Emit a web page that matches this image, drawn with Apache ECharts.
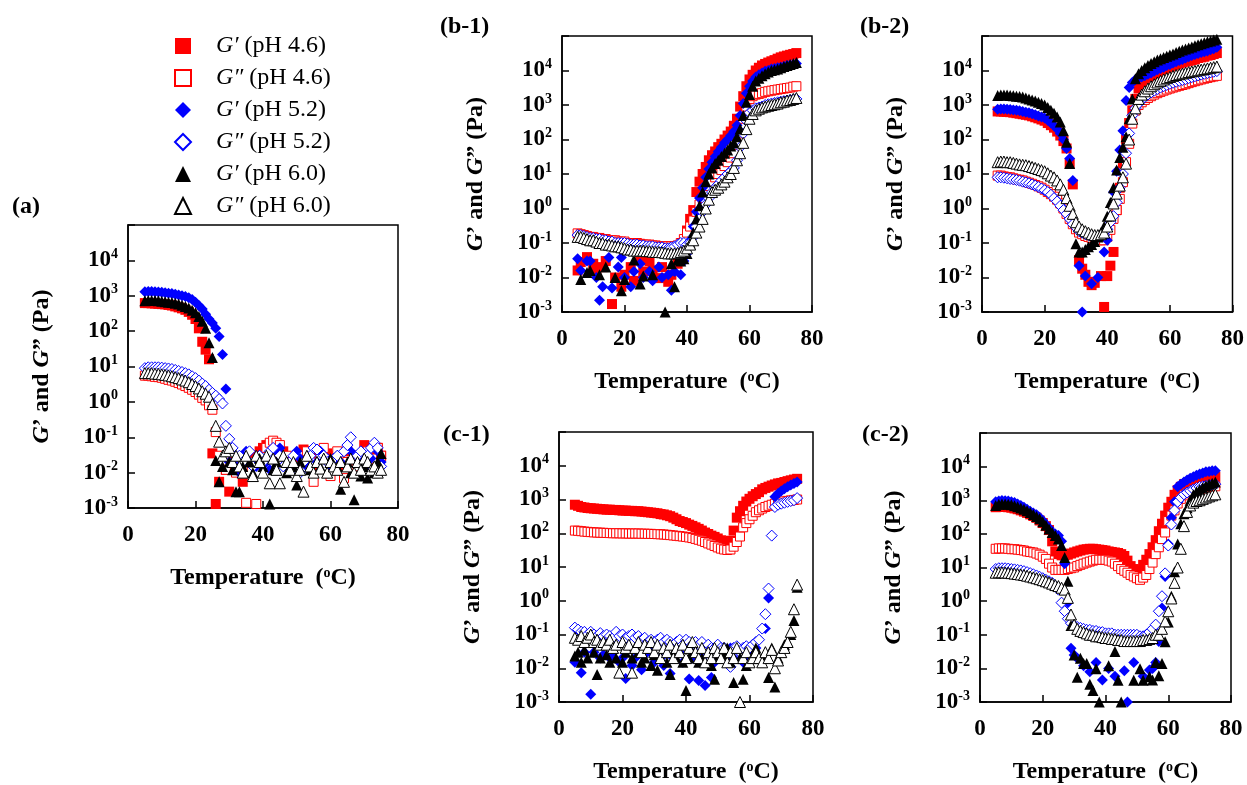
<!DOCTYPE html>
<html>
<head>
<meta charset="utf-8">
<script src="https://cdn.jsdelivr.net/npm/echarts@6/dist/echarts.min.js"></script>
<style>
html,body{margin:0;padding:0;background:#fff;}
#chart{width:1247px;height:785px;}
</style>
</head>
<body>
<div id="chart"></div>
<script>
const _ = null;
// Temperature grid (°C)
const T = [5,6,7,8,9,10,11,12,13,14,15,16,17,18,19,20,21,22,23,24,25,26,27,28,29,30,31,32,33,34,35,36,37,38,39,40,41,42,43,44,45,46,47,48,49,50,51,52,53,54,55,56,57,58,59,60,61,62,63,64,65,66,67,68,69,70,71,72,73,74,75];
const Y_EXPONENTS = [-3,-2,-1,0,1,2,3,4];
const SERIES_NAMES = ['G′ (pH 4.6)','G″ (pH 4.6)','G′ (pH 5.2)','G″ (pH 5.2)','G′ (pH 6.0)','G″ (pH 6.0)'];
const PANEL_TITLES = ['(a)','(b-1)','(b-2)','(c-1)','(c-2)'];

// ---------- panel (a) ----------
const a_Gp46 = [620,620,610,600,590,580,570,550,530,500,
 470,440,400,350,290,220,120,50,30,16,
 0.035,0.0013,0.0055,_,0.012,0.0029,_,0.015,_,0.0055,
 0.02,_,0.03,_,0.04,0.05,0.06,_,0.07,0.03,
 _,0.04,0.02,_,0.025,0.03,_,0.045,0.02,_,
 0.03,0.015,_,0.025,0.035,_,0.02,0.03,_,0.015,
 0.04,_,0.025,0.03,_,0.06,0.02,_,0.035,0.05,
 0.03];
const a_Gpp46 = [5.5,5.5,5.3,5.1,5,4.8,4.5,4.2,4,3.7,
 3.4,3.1,2.8,2.5,2.2,1.9,1.6,1.3,1.1,0.8,
 0.6,0.14,0.03,_,0.012,_,0.02,0.01,_,0.015,
 0.0014,_,0.02,0.0013,_,0.03,0.05,0.07,0.08,0.07,
 0.06,_,0.03,0.02,_,0.015,0.03,_,0.04,0.02,
 0.0055,_,0.03,0.05,_,0.008,0.02,0.04,_,0.007,
 0.02,_,0.03,0.015,_,0.02,0.04,_,0.025,0.05,
 0.03];
const a_Gp52 = [1300,1320,1320,1300,1280,1250,1220,1180,1150,1100,
 1050,1000,950,880,780,650,530,420,300,220,
 170,120,71,22,2.3,0.02,_,0.015,0.01,_,
 0.04,0.02,_,0.015,0.03,_,0.02,0.012,_,0.04,
 0.05,_,0.02,0.015,_,0.04,0.025,_,0.015,0.03,
 _,0.02,0.04,_,0.025,0.015,_,0.03,0.02,_,
 0.06,0.04,_,0.02,0.03,_,0.015,0.025,_,0.04,
 0.02];
const a_Gpp52 = [9,9.5,9.5,9.5,9.5,9.3,9,8.8,8.5,8,
 7.5,7,6.5,6,5.3,4.7,4,3.3,2.8,2.2,
 1.8,1.5,1.2,0.9,0.21,0.09,0.05,_,0.03,0.02,
 _,0.04,0.015,_,0.03,0.02,_,0.04,0.05,_,
 0.03,0.015,_,0.02,0.03,_,0.01,0.02,_,0.03,
 0.05,0.045,_,0.03,0.02,_,0.025,0.03,_,0.04,
 0.06,0.1,_,0.03,0.04,_,0.03,0.05,0.07,0.05,
 0.015];
const a_Gp60 = [720,740,740,730,720,700,680,660,640,610,
 580,540,500,450,390,330,260,190,120,47,
 18,0.022,0.0055,0.015,_,0.02,0.012,0.0029,0.0029,0.015,
 _,0.02,0.01,_,0.025,0.015,_,0.0013,0.012,0.02,
 _,0.03,0.01,_,0.015,0.0045,0.02,_,0.03,0.012,
 _,0.02,0.015,_,0.01,0.025,_,0.015,0.0034,_,
 0.02,0.01,0.0017,_,0.008,0.015,0.007,_,0.01,0.02,
 0.035];
const a_Gpp60 = [6.5,6.5,6.5,6.3,6.2,6,5.8,5.6,5.3,5,
 4.7,4.3,4,3.6,3.2,2.8,2.4,2,1.7,1.4,
 0.87,0.21,0.075,0.03,0.04,0.05,0.02,0.03,0.015,0.01,
 0.03,_,0.008,0.03,0.02,0.01,0.03,0.005,0.025,0.012,
 0.005,0.03,0.02,0.012,0.02,0.008,0.012,0.0029,0.03,0.015,
 0.01,0.02,0.013,0.025,0.01,0.02,0.015,0.012,0.02,0.0055,
 0.015,0.025,0.01,0.02,0.012,0.025,0.02,0.012,0.015,0.01,
 0.012];

// ---------- panel (b-1) ----------
const b1_Gp46 = [0.016,0.028,_,0.039,_,0.025,0.016,_,0.02,0.03,
 _,0.0017,0.01,_,0.0054,0.012,_,0.02,0.008,_,
 0.032,0.015,_,0.03,0.016,_,0.0096,0.02,_,0.0075,
 0.012,_,0.025,0.047,0.1,0.23,0.5,0.9,3,6,
 10,16,25,35,45,60,75,100,130,170,
 250,400,900,1800,3500,5500,7500,10000,12000,14000,
 15500,17000,18500,20000,22000,24000,25500,27000,28500,30000,
 32000];
const b1_Gpp46 = [0.19,0.18,0.17,0.16,0.15,0.15,0.14,0.14,0.13,0.13,
 0.12,0.12,0.12,0.11,0.11,0.11,0.1,0.1,0.1,0.1,
 0.095,0.09,0.09,0.09,0.085,0.085,0.08,0.08,0.08,0.08,
 0.08,0.08,0.085,0.1,0.13,0.2,0.3,0.45,0.8,1.3,
 2,3,4.5,6,8,10,13,17,22,30,
 40,70,150,400,900,1500,1800,2000,2100,2200,
 2400,2500,2600,2700,2800,2900,3000,3100,3200,3400,
 3500];
const b1_Gp52 = [0.035,0.016,_,0.03,0.03,_,0.01,0.0022,0.0054,_,
 0.038,0.005,_,0.02,0.038,0.01,_,0.0054,0.015,_,
 0.025,0.01,_,0.015,0.008,_,0.02,0.01,_,0.012,
 0.0043,0.015,_,0.012,0.03,0.05,0.12,0.3,0.8,2,
 4,8,14,22,32,45,60,80,100,130,
 170,260,500,1100,2200,3500,5000,6500,7500,8500,
 9500,10000,11000,11500,12000,12500,13000,14000,14500,15000,
 16000];
const b1_Gpp52 = [0.17,0.17,0.16,0.15,0.14,0.14,0.13,0.13,0.12,0.12,
 0.11,0.11,0.1,0.1,0.1,0.1,0.095,0.09,0.09,0.09,
 0.085,0.085,0.08,0.08,0.08,0.075,0.075,0.075,0.07,0.07,
 0.075,0.08,0.09,0.1,0.1,0.09,0.1,0.15,0.3,0.5,
 0.8,1.3,2,3,4,5,6.5,8,10,12,
 15,25,60,150,350,600,700,800,850,900,
 1000,1050,1100,1150,1200,1250,1300,1350,1400,1450,
 1500];
const b1_Gp60 = [_,0.0087,_,0.014,0.016,_,_,0.012,_,0.02,
 _,_,0.01,_,0.0041,0.0087,_,_,0.032,_,
 0.0065,0.011,_,_,0.012,_,_,_,0.001,_,
 0.025,0.0054,0.032,0.03,0.035,0.05,0.1,0.2,0.5,1.2,
 3,6,10,15,20,25,32,40,50,65,
 80,120,200,500,1200,2000,3500,5000,6000,7000,
 8000,9000,10000,10500,11000,12000,13000,14000,15000,16000,
 17000];
const b1_Gpp60 = [0.15,0.15,0.14,0.13,0.12,0.12,0.11,0.1,0.1,0.09,
 0.09,0.085,0.08,0.08,0.075,0.07,0.065,0.065,0.06,0.06,
 0.06,0.06,0.058,0.058,0.056,0.055,0.055,0.054,0.052,0.05,
 0.05,0.05,0.052,0.055,0.06,0.07,0.09,0.12,0.2,0.3,
 0.5,1,1.8,3,3.5,4,5,6,8,10,
 15,25,40,80,200,400,550,700,780,850,
 900,950,1000,1050,1100,1200,1250,1350,1400,1500,
 1600];

// ---------- panel (b-2) ----------
const b2_Gp46 = [650,650,640,630,620,600,580,560,540,520,
 500,470,440,410,380,350,300,260,220,170,
 130,90,55,20,5,_,0.032,0.018,0.012,0.0075,
 0.006,0.007,_,0.011,0.0014,0.011,0.022,0.055,0.9,4,
 20,100,300,700,1500,3000,4500,5500,6500,7000,
 8000,9000,10000,11000,12000,13000,14000,15000,16000,17000,
 18000,19000,20000,21000,23000,24000,25000,27000,28000,30000,
 32000];
const b2_Gpp46 = [9,9,8.5,8.2,8,7.5,7,6.8,6.5,6,
 5.6,5.2,4.8,4.4,4,3.5,3,2.6,2.2,1.8,
 1.4,1,0.7,0.5,0.35,0.25,0.2,0.18,0.16,0.15,
 0.14,0.13,0.12,0.12,0.12,0.15,0.24,0.5,0.9,1.9,
 5.8,22,75,290,690,1000,1200,1400,1600,1800,
 2000,2200,2400,2600,2800,3000,3200,3400,3600,3800,
 4000,4300,4600,4900,5200,5500,5800,6100,6400,6700,
 7000];
const b2_Gp52 = [750,760,760,750,740,720,700,680,650,620,
 600,560,520,480,450,420,360,300,250,200,
 150,100,55,28,6.5,_,0.022,0.001,0.011,_,
 0.0066,_,0.01,_,0.055,0.12,0.6,3,12,50,
 180,1350,3200,4500,5500,6000,6500,7000,7800,8500,
 9500,10500,11500,12500,14000,15000,16500,18000,19500,21000,
 23000,25000,27000,29000,31000,33000,35000,37000,40000,43000,
 47000];
const b2_Gpp52 = [8,8,7.8,7.5,7.2,7,6.7,6.4,6,5.7,
 5.4,5,4.6,4.2,3.8,3.4,3,2.5,2,1.6,
 1.2,0.9,0.7,0.5,0.35,0.28,0.22,0.2,0.18,0.17,
 0.16,0.15,0.15,0.16,0.17,0.25,0.4,0.6,1.5,4,
 10,40,150,500,800,1100,1400,1700,2000,2300,
 2600,2900,3200,3500,3800,4100,4400,4700,5000,5300,
 5600,6000,6400,6800,7200,7600,8000,8400,8800,9200,
 9600];
const b2_Gp60 = [1900,1950,1950,1950,1900,1850,1800,1750,1700,1600,
 1500,1400,1300,1200,1100,1000,850,700,580,450,
 320,180,83,20,_,0.095,0.055,0.055,0.065,0.078,
 0.09,0.11,0.15,0.2,0.3,0.6,1.5,4,13,30,
 60,120,400,1500,5800,8000,10000,12000,14000,16000,
 18000,20000,22000,24000,26000,28000,30000,33000,36000,39000,
 42000,45000,48000,52000,56000,60000,64000,68000,72000,76000,
 80000];
const b2_Gpp60 = [22,23,23,22,22,21,20,19,18.5,18,
 17,16,15,14,13,12,10.5,9,8,6.5,
 5,3.5,2,1.2,0.7,0.4,0.3,0.25,0.22,0.2,
 0.18,0.17,0.17,0.18,0.2,0.3,0.63,1.4,2.7,4.6,
 8,20,100,400,800,1500,2000,2500,3000,3500,
 4000,4500,5000,5500,6000,6500,7000,7400,7800,8200,
 8600,9000,9400,9800,10200,10600,11000,11500,12000,12500,
 13000];

// ---------- panel (c-1) ----------
const c1_Gp46 = [700,650,600,580,560,550,540,530,520,510,
 500,500,490,490,480,470,470,460,460,450,
 450,440,430,420,410,400,390,370,360,340,
 320,290,260,230,215,200,180,165,150,135,
 120,105,95,85,78,70,62,55,48,60,
 120,290,450,650,870,1050,1250,1450,1650,2000,
 2200,2400,2600,2800,3000,3100,3300,3500,3700,3900,
 4100];
const c1_Gpp46 = [120,118,115,112,110,108,106,105,104,103,
 102,101,100,100,100,99,99,98,98,98,
 98,97,97,96,96,95,94,93,92,90,
 88,86,84,82,80,78,75,72,68,64,
 60,55,50,46,42,38,35,33,32,33,
 40,55,80,150,200,260,330,420,480,540,
 600,650,700,750,800,850,880,910,940,970,
 1000];
const c1_Gp52 = [0.015,_,0.0074,0.03,_,0.0017,0.03,_,0.02,0.025,
 _,0.02,0.03,_,0.015,0.02,0.005,_,0.012,0.02,
 _,0.009,0.025,_,0.03,0.015,_,0.02,0.012,_,
 0.007,0.02,_,0.03,0.015,_,0.0048,0.02,_,0.0043,
 0.02,0.0031,_,0.0053,0.015,_,0.03,0.02,_,0.04,
 0.02,_,0.03,0.015,_,0.02,0.03,0.04,_,_,
 0.15,1.2,_,1200,1500,1800,2100,2400,2700,3000,
 3300];
const c1_Gpp52 = [0.16,0.14,0.12,0.12,0.1,0.12,0.1,0.09,0.11,0.09,
 0.1,0.09,0.08,0.12,0.09,0.1,0.08,0.09,0.1,0.08,
 0.09,0.07,0.08,0.06,0.07,0.06,0.07,0.08,0.06,0.07,
 0.06,0.05,0.06,0.07,0.05,0.07,0.06,0.05,0.06,0.05,
 0.06,0.04,0.05,0.04,0.04,0.05,0.04,0.04,0.035,0.011,
 0.04,0.045,0.03,0.04,0.045,0.04,0.05,0.06,0.07,0.15,
 0.4,2.3,85,600,700,750,800,850,900,950,
 1100];
const c1_Gp60 = [0.023,0.03,0.015,0.035,0.02,_,0.03,0.0065,0.02,_,
 0.025,0.015,0.04,0.02,_,0.015,0.03,0.045,0.02,_,
 0.03,0.015,0.02,_,0.012,0.025,0.0087,0.02,_,0.015,
 0.0065,0.03,0.02,_,0.015,0.0022,0.02,0.03,_,0.015,
 0.02,_,0.03,0.012,0.0047,0.02,_,0.025,0.04,0.015,
 0.0038,_,0.02,0.0047,0.012,_,0.025,0.04,0.02,0.02,
 _,0.0053,0.04,0.0028,0.02,0.03,0.05,0.06,0.1,0.26,
 2.5];
const c1_Gpp60 = [0.08,0.07,0.09,0.06,0.08,0.1,0.06,0.07,0.05,0.06,
 0.05,0.07,0.04,0.05,0.0074,0.06,0.04,0.05,0.0074,0.04,
 0.06,0.03,0.05,0.04,0.06,0.03,0.05,0.02,0.04,0.03,
 0.05,0.02,0.04,0.03,0.05,0.02,0.04,0.06,0.03,0.02,
 0.04,0.015,0.03,0.02,0.04,0.03,0.02,0.04,0.015,0.03,
 0.02,0.04,0.001,0.02,0.03,0.015,0.02,0.03,0.02,0.015,
 0.03,0.02,0.035,0.01,0.017,0.03,0.04,0.06,0.12,0.56,
 3];

// ---------- panel (c-2) ----------
const c2_Gp46 = [620,640,640,630,620,600,570,540,500,460,
 420,380,340,300,250,210,170,130,60,30,
 25,23,23,24,26,28,30,32,34,35,
 36,36,35,34,33,32,30,29,28,27,
 25,22,16,11,9,8,8,12,17,25,
 40,65,120,200,350,600,900,1450,2000,2500,
 3000,3200,3400,3600,3800,4000,4200,4400,4600,4800,
 5000];
const c2_Gpp46 = [36,37,37,37,36,35,35,34,33,32,
 30,29,28,26,24,21,18,13,10,8.5,
 8.5,8.5,8.5,9,9.5,10,11,12,13,14,
 15,16,17,17,17,17,16,15,13,11,
 9,8,7,6,5.4,4.8,4.3,5,6,9,
 14,25,40,70,110,240,350,500,800,1100,
 1400,1600,1800,1900,2000,2100,2200,2300,2400,2500,
 2600];
const c2_Gp52 = [900,950,980,970,950,900,850,780,700,620,
 540,470,420,370,310,250,190,150,115,100,
 90,60,13,0.9,0.04,0.025,0.02,_,0.012,_,
 0.008,_,0.015,_,0.0045,_,0.01,_,0.0058,_,
 _,0.0085,0.001,_,0.015,_,_,0.0058,_,0.009,
 0.01,0.015,0.063,0.62,5.4,50,300,900,2500,3000,
 3500,4000,4500,5000,5500,6000,6500,7000,7200,7500,
 7600];
const c2_Gpp52 = [9,9.5,9.5,9.5,9.3,9,8.8,8.5,8.2,7.8,
 7.3,6.8,6.3,5.8,5.3,4.8,4.3,3.9,3.5,2.8,
 2.2,0.9,0.5,0.3,0.22,0.19,0.17,0.16,0.15,0.14,
 0.14,0.13,0.13,0.12,0.12,0.11,0.11,0.11,0.1,0.1,
 0.1,0.1,0.1,0.1,0.1,0.1,0.09,0.09,0.1,0.12,
 0.15,0.2,0.5,1.4,6.7,45,190,500,900,1200,
 1500,1700,1900,2100,2300,2500,2600,2700,2800,2900,
 3000];
const c2_Gp60 = [700,760,780,780,760,730,690,640,590,540,
 490,430,380,330,280,230,180,140,110,90,
 70,45,20,3.9,0.19,0.025,0.0054,0.02,0.014,0.014,
 0.0034,0.0022,0.0097,0.001,_,_,0.012,_,0.032,0.0044,
 0.001,_,_,_,0.0044,_,0.0097,0.0044,_,0.0056,
 0.0045,0.015,0.006,0.014,0.062,0.24,1.4,7.5,50,200,
 400,600,1000,1450,1800,2100,2400,2700,3000,3200,
 3500];
const c2_Gpp60 = [7,7.2,7.2,7.1,7,6.8,6.6,6.4,6.2,6,
 5.7,5.4,5.1,4.8,4.5,4.2,3.9,3.6,3.3,3,
 2.8,2.5,2.2,1.25,0.4,0.2,0.15,0.13,0.12,0.11,
 0.1,0.1,0.09,0.09,0.085,0.08,0.08,0.075,0.075,0.07,
 0.07,0.065,0.065,0.065,0.065,0.065,0.065,0.07,0.07,0.075,
 0.08,0.1,0.1,0.15,0.25,0.5,1.2,3.5,10,36,
 170,450,700,850,950,1000,1100,1200,1300,1400,
 1500];

const PANEL_DATA = [
  [a_Gp46, a_Gpp46, a_Gp52, a_Gpp52, a_Gp60, a_Gpp60],
  [b1_Gp46, b1_Gpp46, b1_Gp52, b1_Gpp52, b1_Gp60, b1_Gpp60],
  [b2_Gp46, b2_Gpp46, b2_Gp52, b2_Gpp52, b2_Gp60, b2_Gpp60],
  [c1_Gp46, c1_Gpp46, c1_Gp52, c1_Gpp52, c1_Gp60, c1_Gpp60],
  [c2_Gp46, c2_Gpp46, c2_Gp52, c2_Gpp52, c2_Gp60, c2_Gpp60]
];

// ---------- layout & style ----------
const FONT = '"Liberation Serif", "Times New Roman", serif';
const GRIDS = [
  {left:128, top:225, width:270, height:283},
  {left:562, top:36, width:250, height:276},
  {left:982, top:36, width:251, height:276},
  {left:559, top:432, width:254, height:276},
  {left:980, top:433, width:251, height:275}
];
const TITLE_POS = [
  {left:7, top:190},
  {left:435, top:10},
  {left:855, top:10},
  {left:438, top:418},
  {left:857, top:418}
];
const MARKERS = [
  {symbol:'rect', symbolSize:10, itemStyle:{color:'#ff0000', opacity:1}},
  {symbol:'rect', symbolSize:9, itemStyle:{color:'#ffffff', borderColor:'#ff0000', borderWidth:1, opacity:1}},
  {symbol:'diamond', symbolSize:11, itemStyle:{color:'#0000ff', opacity:1}},
  {symbol:'diamond', symbolSize:11, itemStyle:{color:'#ffffff', borderColor:'#0000ff', borderWidth:1, opacity:1}},
  {symbol:'triangle', symbolSize:11, itemStyle:{color:'#000000', opacity:1}},
  {symbol:'triangle', symbolSize:11, itemStyle:{color:'#ffffff', borderColor:'#000000', borderWidth:1, opacity:1}}
];

const axisLineStyle = {color:'#000', width:1.5};

function xAxisFor(i) {
  return {
    gridIndex:i, type:'value', min:0, max:80, interval:20,
    name:'Temperature  ({s|o}C)', nameLocation:'middle', nameGap:58,
    nameTextStyle:{fontFamily:FONT, fontSize:24, fontWeight:'bold', color:'#000',
      rich:{s:{fontFamily:FONT, fontSize:14, fontWeight:'bold', color:'#000', verticalAlign:'top', lineHeight:14}}},
    axisLine:{onZero:false, lineStyle:axisLineStyle},
    axisTick:{inside:true, length:7, lineStyle:axisLineStyle},
    axisLabel:{margin:16, color:'#000', fontFamily:FONT, fontSize:23, fontWeight:'bold'},
    splitLine:{show:false}
  };
}
function yAxisFor(i) {
  return {
    gridIndex:i, type:'log', logBase:10, min:0.001, max:100000, splitNumber:8,
    name:'{i|G}’ and {i|G}” (Pa)', nameLocation:'middle', nameGap:74,
    nameTextStyle:{fontFamily:FONT, fontSize:24, fontWeight:'bold', color:'#000',
      rich:{i:{fontFamily:FONT, fontSize:24, fontWeight:'bold', fontStyle:'italic', color:'#000'}}},
    axisLine:{onZero:false, lineStyle:axisLineStyle},
    axisTick:{inside:true, length:7, lineStyle:axisLineStyle},
    axisLabel:{
      margin:10, color:'#000',
      formatter:function(v){
        const e = Math.round(Math.log10(v));
        return Y_EXPONENTS.indexOf(e) >= 0 ? '{b|10}{s|' + e + '}' : '';
      },
      rich:{
        b:{fontFamily:FONT, fontSize:23, fontWeight:'bold', color:'#000', lineHeight:26},
        s:{fontFamily:FONT, fontSize:14, fontWeight:'bold', color:'#000', verticalAlign:'top', lineHeight:14}
      }
    },
    splitLine:{show:false},
    minorTick:{show:false}
  };
}

const series = [];
PANEL_DATA.forEach(function(panel, p){
  panel.forEach(function(vals, k){
    const m = MARKERS[k];
    series.push({
      type:'scatter', name:SERIES_NAMES[k], xAxisIndex:p, yAxisIndex:p,
      symbol:m.symbol, symbolSize:m.symbolSize, itemStyle:m.itemStyle,
      emphasis:{disabled:true}, clip:true,
      data:T.map(function(t, i){ return vals[i] == null ? null : [t, vals[i]]; }).filter(function(d){ return d; })
    });
  });
});

const option = {
  backgroundColor:'#fff',
  animation:false,
  title: PANEL_TITLES.map(function(t, i){
    return {text:t, left:TITLE_POS[i].left, top:TITLE_POS[i].top,
      textStyle:{fontFamily:FONT, fontSize:24, fontWeight:'bold', color:'#000'}};
  }),
  legend:{
    orient:'vertical', left:169, top:29, itemGap:8, itemWidth:16, itemHeight:16,
    selectedMode:false,
    data: SERIES_NAMES.map(function(n, k){
      return {name:n, itemStyle: k % 2 === 1 ? {borderWidth:2, opacity:1} : {opacity:1}};
    }),
    formatter:function(n){ return '{i|' + n.slice(0,2) + '}' + n.slice(2); },
    textStyle:{fontFamily:FONT, fontSize:24, color:'#000', padding:[0,0,0,20],
      rich:{i:{fontFamily:FONT, fontSize:24, fontStyle:'italic', color:'#000'}}}
  },
  grid: GRIDS.map(function(g){
    return {left:g.left, top:g.top, width:g.width, height:g.height, show:true,
      borderColor:'#000', borderWidth:1.5, backgroundColor:'transparent', containLabel:false};
  }),
  xAxis: GRIDS.map(function(g, i){ return xAxisFor(i); }),
  yAxis: GRIDS.map(function(g, i){ return yAxisFor(i); }),
  series: series
};

const chart = echarts.init(document.getElementById('chart'), null, {renderer:'canvas'});
chart.setOption(option);
</script>
</body>
</html>
